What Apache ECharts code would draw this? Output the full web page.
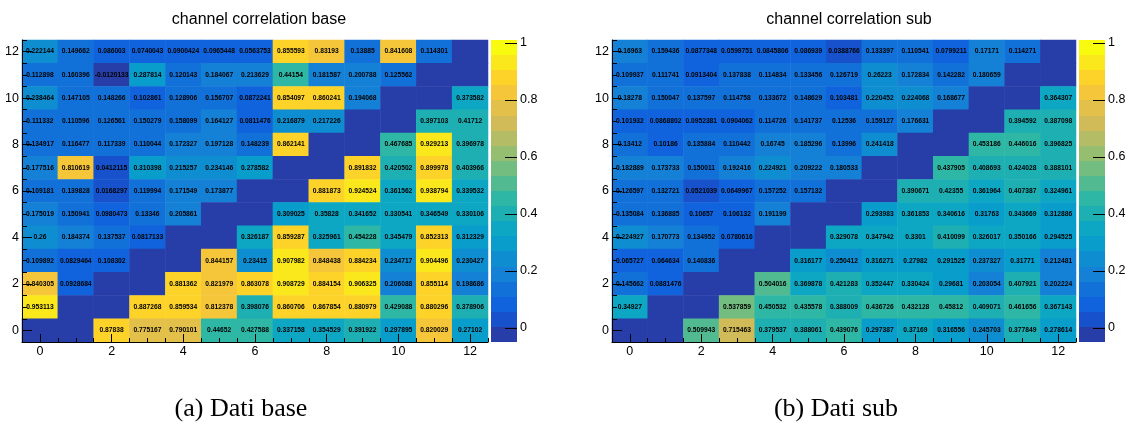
<!DOCTYPE html>
<html>
<head>
<meta charset="utf-8">
<script src="https://cdn.jsdelivr.net/npm/echarts@6/dist/echarts.min.js"></script>
<style>
  html, body { margin: 0; padding: 0; background: #ffffff; }
  #chart { width: 1129px; height: 432px; }
</style>
</head>
<body>
<div id="chart"></div>
<script>
// Channel indices on both axes
const channels = ['0', '1', '2', '3', '4', '5', '6', '7', '8', '9', '10', '11', '12'];

// Correlation matrix, "base" data. Rows run from channel 12 (top) down to channel 0.
// Empty cells hold 0 and carry no text.
const baseRows = [
  [0.222144, 0.149662, 0.086003, 0.0740043, 0.0900424, 0.0965448, 0.0563753, 0.855593, 0.83193, 0.13885, 0.841608, 0.114301, 0],
  [0.112898, 0.160396, -0.0120133, 0.287814, 0.120143, 0.184067, 0.213629, 0.44154, 0.181587, 0.200788, 0.125562, 0, 0],
  [0.238464, 0.147105, 0.148266, 0.102861, 0.128906, 0.156707, 0.0872241, 0.854097, 0.860241, 0.194068, 0, 0, 0.373582],
  [0.111332, 0.110596, 0.126561, 0.150279, 0.158099, 0.164127, 0.0811476, 0.216879, 0.217226, 0, 0, 0.397103, 0.41712],
  [0.134917, 0.116477, 0.117339, 0.110044, 0.172327, 0.197128, 0.148239, 0.862141, 0, 0, 0.467685, 0.929213, 0.396978],
  [0.177516, 0.810619, 0.0412115, 0.310398, 0.215257, 0.234146, 0.278582, 0, 0, 0.891832, 0.420502, 0.899978, 0.403966],
  [0.109181, 0.139828, 0.0168297, 0.119994, 0.171549, 0.173877, 0, 0, 0.881873, 0.924524, 0.361562, 0.938794, 0.339532],
  [0.175019, 0.150941, 0.0980473, 0.13346, 0.205861, 0, 0, 0.309025, 0.35828, 0.341652, 0.330541, 0.346549, 0.330106],
  [0.26, 0.184374, 0.137537, 0.0817133, 0, 0, 0.326187, 0.859287, 0.325961, 0.454228, 0.345479, 0.852313, 0.312329],
  [0.109892, 0.0829464, 0.108302, 0, 0, 0.844157, 0.23415, 0.907982, 0.848438, 0.884234, 0.234717, 0.904496, 0.230427],
  [0.840305, 0.0928684, 0, 0, 0.881362, 0.821979, 0.863078, 0.908729, 0.884154, 0.906325, 0.206088, 0.855114, 0.198686],
  [0.953113, 0, 0, 0.887268, 0.859534, 0.812378, 0.398076, 0.860706, 0.867854, 0.880979, 0.429088, 0.880296, 0.378906],
  [0, 0, 0.87838, 0.775167, 0.790101, 0.44652, 0.427588, 0.337158, 0.354529, 0.391922, 0.297895, 0.820029, 0.27102]
];

// Correlation matrix, "sub" data, same layout.
const subRows = [
  [0.16963, 0.159436, 0.0877348, 0.0599751, 0.0845806, 0.086939, 0.0388766, 0.133397, 0.110541, 0.0799211, 0.17171, 0.114271, 0],
  [0.109937, 0.111741, 0.0913404, 0.137838, 0.114834, 0.133456, 0.126719, 0.26223, 0.172834, 0.142282, 0.180659, 0, 0],
  [0.18278, 0.150047, 0.137597, 0.114758, 0.133672, 0.148629, 0.103481, 0.220452, 0.224068, 0.168677, 0, 0, 0.364307],
  [0.101932, 0.0868802, 0.0952381, 0.0904062, 0.114726, 0.141737, 0.12536, 0.159127, 0.176631, 0, 0, 0.394592, 0.387098],
  [0.13412, 0.10186, 0.135884, 0.110442, 0.16745, 0.185296, 0.13996, 0.241418, 0, 0, 0.453186, 0.446016, 0.396825],
  [0.182889, 0.173733, 0.150011, 0.192416, 0.224921, 0.209222, 0.180533, 0, 0, 0.437905, 0.408693, 0.424028, 0.388101],
  [0.126597, 0.132721, 0.0521039, 0.0649967, 0.157252, 0.157132, 0, 0, 0.390671, 0.42355, 0.361964, 0.407387, 0.324961],
  [0.135084, 0.136885, 0.10657, 0.106132, 0.191199, 0, 0, 0.293983, 0.361853, 0.340616, 0.31763, 0.343669, 0.312886],
  [0.224927, 0.170773, 0.134952, 0.0780616, 0, 0, 0.329078, 0.347942, 0.3301, 0.410099, 0.326017, 0.350166, 0.294525],
  [0.065727, 0.064634, 0.140836, 0, 0, 0.316177, 0.250412, 0.316271, 0.27982, 0.291525, 0.237327, 0.31771, 0.212481],
  [0.145662, 0.0881476, 0, 0, 0.504016, 0.369878, 0.421283, 0.352447, 0.330424, 0.29681, 0.203054, 0.407921, 0.202224],
  [0.34927, 0, 0, 0.537859, 0.450532, 0.435578, 0.388009, 0.436726, 0.432128, 0.45812, 0.409071, 0.461656, 0.367143],
  [0, 0, 0.509943, 0.715463, 0.379537, 0.388061, 0.439076, 0.297387, 0.37169, 0.316556, 0.245703, 0.377849, 0.278614]
];

const titles = ['channel correlation base', 'channel correlation sub'];
const captions = ['(a) Dati base', '(b) Dati sub'];
const axisTickLabels = [0, 2, 4, 6, 8, 10, 12];
const colorTickLabels = [0, 0.2, 0.4, 0.6, 0.8, 1];

// Colour scale range and number of contour bands
const zMin = -0.05;
const zMax = 1.01;
const nBands = 20;

// ---- "bird" palette ----
const birdStops = [0.0, 0.125, 0.25, 0.375, 0.5, 0.625, 0.75, 0.875, 1.0];
const birdR = [0.2082, 0.0592, 0.0780, 0.0232, 0.1802, 0.5301, 0.8186, 0.9956, 0.9764];
const birdG = [0.1664, 0.3599, 0.5041, 0.6419, 0.7178, 0.7492, 0.7328, 0.7862, 0.9832];
const birdB = [0.5293, 0.8684, 0.8385, 0.7914, 0.6425, 0.4662, 0.3499, 0.1968, 0.0539];

function birdColor(t) {
  let k = 0;
  while (k < birdStops.length - 2 && t > birdStops[k + 1]) k++;
  const f = (t - birdStops[k]) / (birdStops[k + 1] - birdStops[k]);
  const c = (a) => Math.round(255 * (a[k] + (a[k + 1] - a[k]) * f));
  return 'rgb(' + c(birdR) + ',' + c(birdG) + ',' + c(birdB) + ')';
}

// Each contour band takes one colour out of a 255-colour table
const nColors = 255;
const bandStep = (zMax - zMin) / nBands;
const bandColors = [];
const pieces = [];
for (let i = 0; i < nBands; i++) {
  const idx = Math.floor((i + 0.99) * nColors / nBands);
  bandColors.push(birdColor(Math.min(idx, nColors - 1) / (nColors - 1)));
  const lo = zMin + i * bandStep;
  const hi = lo + bandStep;
  const p = { color: bandColors[i] };
  if (i === 0) p.lt = hi; else if (i === nBands - 1) p.gte = lo; else { p.gte = lo; p.lt = hi; }
  pieces.push(p);
}

function cellData(rows) {
  const out = [];
  rows.forEach((row, k) => {
    const y = channels.length - 1 - k;
    row.forEach((v, x) => out.push([x, y, v]));
  });
  return out;
}

function colorbarData() {
  const out = [];
  for (let i = 0; i < nBands; i++) out.push([0.5, zMin + i * bandStep, zMin + (i + 1) * bandStep, i]);
  return out;
}

const minorTicks = [];
for (let v = -0.5; v <= 12.5001; v += 0.5) minorTicks.push(+v.toFixed(1));

const FONT = '"Liberation Sans", Arial, Helvetica, sans-serif';
const SERIF = '"Liberation Serif", "Times New Roman", serif';

// Layout of the two panels
const panels = [
  { left: 22, width: 466, barLeft: 491, titleX: 254, captionX: 241 },
  { left: 612, width: 464, barLeft: 1079, titleX: 844, captionX: 836 }
];
const plotTop = 40;
const plotHeight = 302;
const barWidth = 26;

const grids = [];
const xAxes = [];
const yAxes = [];

panels.forEach((p) => {
  grids.push({ left: p.left, top: plotTop, width: p.width, height: plotHeight, containLabel: false });
});
panels.forEach((p) => {
  grids.push({ left: p.barLeft, top: plotTop, width: barWidth, height: plotHeight, containLabel: false });
});

function tickAxis(g, position, len, values, withLabels) {
  return {
    type: 'value', gridIndex: g, min: -0.5, max: 12.5, position: position, z: 10,
    axisLine: { show: withLabels, onZero: false, lineStyle: { color: '#000', width: 1 } },
    axisTick: { show: true, inside: true, length: len, customValues: values, lineStyle: { color: '#000', width: 1 } },
    axisLabel: withLabels
      ? { show: true, customValues: values, margin: position === 'bottom' ? 3 : 3, color: '#000', fontSize: 12.5, fontFamily: FONT }
      : { show: false },
    splitLine: { show: false }
  };
}

panels.forEach((p, g) => {
  // band axes used by the heatmap cells
  xAxes.push({ type: 'category', gridIndex: g, data: channels, show: false });
  yAxes.push({ type: 'category', gridIndex: g, data: channels, show: false });
  // numbered axes with major ticks, then half-channel minor ticks
  xAxes.push(tickAxis(g, 'bottom', 8, axisTickLabels, true));
  yAxes.push(tickAxis(g, 'left', 10, axisTickLabels, true));
  xAxes.push(tickAxis(g, 'bottom', 4, minorTicks, false));
  yAxes.push(tickAxis(g, 'left', 5, minorTicks, false));
});

panels.forEach((p, g) => {
  xAxes.push({ type: 'value', gridIndex: 2 + g, min: 0, max: 1, show: false });
  yAxes.push({
    type: 'value', gridIndex: 2 + g, min: zMin, max: zMax, position: 'right', z: 10,
    axisLine: { show: false, onZero: false },
    axisTick: { show: true, inside: true, length: 12, customValues: colorTickLabels, lineStyle: { color: '#000' } },
    axisLabel: { show: true, customValues: colorTickLabels, margin: 3, color: '#000', fontSize: 12.5, fontFamily: FONT },
    splitLine: { show: false }
  });
});

const cellLabel = {
  show: true,
  color: '#000',
  fontSize: 6.7,
  fontWeight: 'bold',
  fontFamily: FONT,
  formatter: (prm) => (prm.value[2] === 0 ? '' : String(prm.value[2]))
};

const series = [
  {
    type: 'heatmap', xAxisIndex: 0, yAxisIndex: 0,
    data: cellData(baseRows), label: cellLabel,
    itemStyle: { borderWidth: 0 }, emphasis: { disabled: true }, progressive: 0
  },
  {
    type: 'heatmap', xAxisIndex: 3, yAxisIndex: 3,
    data: cellData(subRows), label: cellLabel,
    itemStyle: { borderWidth: 0 }, emphasis: { disabled: true }, progressive: 0
  }
];

panels.forEach((p, g) => {
  series.push({
    type: 'custom', xAxisIndex: 6 + g, yAxisIndex: 6 + g,
    data: colorbarData(),
    encode: { x: 0, y: [1, 2] },
    silent: true,
    renderItem: (params, api) => {
      const lo = api.value(1), hi = api.value(2), i = api.value(3);
      const a = api.coord([0, hi]);
      const b = api.coord([1, lo]);
      const y0 = Math.round(a[1]), y1 = Math.round(b[1]);
      return {
        type: 'rect',
        shape: { x: a[0], y: y0, width: b[0] - a[0], height: y1 - y0 },
        style: { fill: bandColors[i] }
      };
    },
    z: 1
  });
});

const option = {
  animation: false,
  backgroundColor: '#ffffff',
  title: titles.map((t, g) => ({
    text: t, left: panels[g].titleX, top: 7, textAlign: 'center',
    textStyle: { fontFamily: FONT, fontSize: 16, fontWeight: 'normal', color: '#000' }
  })),
  grid: grids,
  xAxis: xAxes,
  yAxis: yAxes,
  visualMap: {
    type: 'piecewise', show: false, dimension: 2, seriesIndex: [0, 1], pieces: pieces
  },
  graphic: captions.map((c, g) => ({
    type: 'text', x: panels[g].captionX, y: 409,
    style: { text: c, fontFamily: SERIF, fontSize: 26, fill: '#000', align: 'center', verticalAlign: 'middle' }
  })),
  series: series
};

const chart = echarts.init(document.getElementById('chart'), null, { renderer: 'canvas' });
chart.setOption(option);
</script>
</body>
</html>
